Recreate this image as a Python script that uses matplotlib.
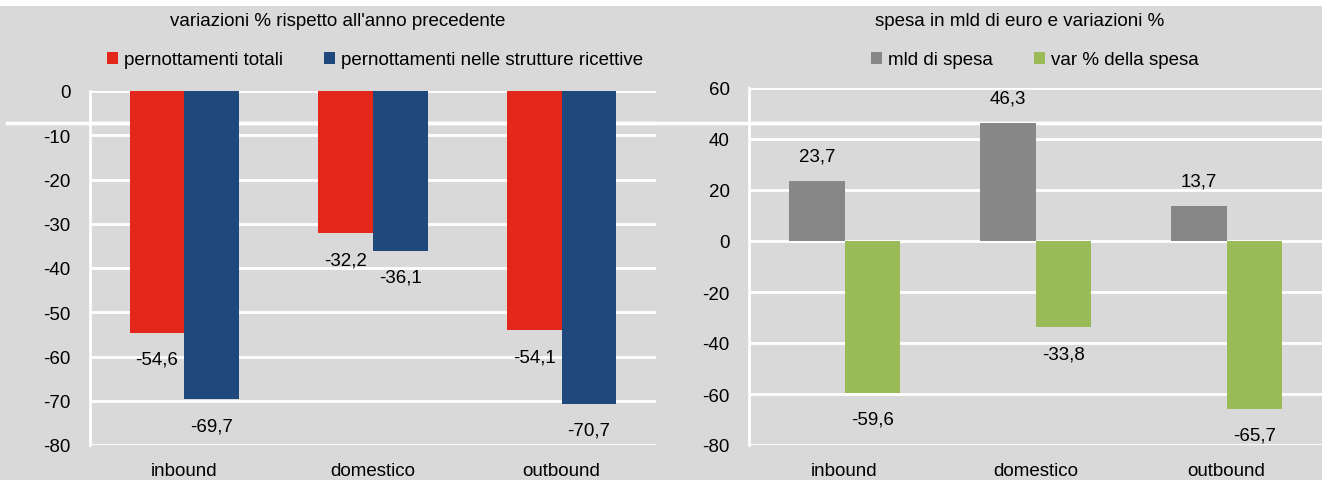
import matplotlib
matplotlib.use('Agg')
import matplotlib.pyplot as plt
from matplotlib.lines import Line2D
from matplotlib.patches import Rectangle
import numpy as np

plt.rcParams['font.family'] = ['Liberation Sans Narrow', 'Liberation Sans', 'DejaVu Sans']
plt.rcParams['axes.unicode_minus'] = False

categories = ['inbound', 'domestico', 'outbound']

# left panel: variazioni % pernottamenti
pern_totali = [-54.6, -32.2, -54.1]
pern_strutture = [-69.7, -36.1, -70.7]
left_title = "variazioni % rispetto all'anno precedente"
left_labels = ['pernottamenti totali', 'pernottamenti nelle strutture ricettive']
left_yticks = [0, -10, -20, -30, -40, -50, -60, -70, -80]

# right panel: spesa
mld_spesa = [23.7, 46.3, 13.7]
var_spesa = [-59.6, -33.8, -65.7]
right_title = 'spesa in mld di euro e variazioni %'
right_labels = ['mld di spesa', 'var % della spesa']
right_yticks = [60, 40, 20, 0, -20, -40, -60, -80]

BG = '#D9D9D9'
RED = '#E4271A'
BLUE = '#1F497D'
GRAY = '#878787'
GREEN = '#9BBB59'
FS = 13.5

W, H = 1322, 481
SEP_Y = 1 - 123.5 / H
fig = plt.figure(figsize=(W / 100, H / 100), dpi=100, facecolor=BG)

# white strip at top and separator line behind the charts
fig.add_artist(Rectangle((0, 1 - 7 / H), 1, 7 / H, transform=fig.transFigure,
                         facecolor='white', edgecolor='none', zorder=-2))
fig.add_artist(Line2D([7 / W, 1], [SEP_Y] * 2, transform=fig.transFigure,
                      color='white', lw=2.5, zorder=-1))


def fmt(v):
    return ('%.1f' % v).replace('.', ',')


def panel(rect, s1, s2, c1, c2, yticks, labels, title, title_x, legend_x):
    ax = fig.add_axes(rect)
    ax.set_facecolor('none')
    x = np.arange(len(categories))
    w = 0.29
    b1 = ax.bar(x - w / 2, s1, w, color=c1, label=labels[0], zorder=3)
    b2 = ax.bar(x + w / 2, s2, w, color=c2, label=labels[1], zorder=3)
    for bars, vals in ((b1, s1), (b2, s2)):
        for r, v in zip(bars, vals):
            off = 18 if v > 0 else -19
            ax.annotate(fmt(v), (r.get_x() + r.get_width() / 2, v),
                        xytext=(0, off), textcoords='offset points',
                        ha='center', va='center', fontsize=FS, color='black')
    ax.set_xlim(-0.5, len(categories) - 0.5)
    ax.set_ylim(min(yticks), max(yticks))
    # separator line also runs through the plot area, under the bars
    ax.plot([0, 1], [SEP_Y] * 2, transform=fig.transFigure, color='white',
            lw=2.5, zorder=2)
    ax.set_yticks(yticks)
    ax.set_xticks(x)
    ax.set_xticklabels(categories)
    ax.tick_params(axis='both', length=0, labelsize=FS, colors='black')
    ax.tick_params(axis='y', pad=14)
    ax.tick_params(axis='x', pad=12)
    ax.grid(axis='y', color='white', lw=2, zorder=1)
    ax.set_axisbelow(True)
    for s in ['top', 'right', 'bottom']:
        ax.spines[s].set_visible(False)
    ax.spines['left'].set_color('white')
    ax.spines['left'].set_linewidth(2)
    fig.text(title_x, 1 - 22 / H, title, ha='center', va='center', fontsize=FS)
    fig.legend(handles=[b1, b2], loc='center', bbox_to_anchor=(legend_x, 1 - 61 / H),
               ncol=2, frameon=False, fontsize=FS, handlelength=0.6, handleheight=0.6,
               handletextpad=0.3, columnspacing=2.2, borderaxespad=0)
    return ax


panel([90 / W, 1 - 446 / H, (656 - 90) / W, (446 - 92) / H],
      pern_totali, pern_strutture, RED, BLUE, left_yticks, left_labels,
      left_title, 338 / W, 375 / W)
panel([749 / W, 1 - 446 / H, (W - 749) / W, (446 - 89) / H],
      mld_spesa, var_spesa, GRAY, GREEN, right_yticks, right_labels,
      right_title, 1020 / W, 1035 / W)

fig.savefig('out.png', dpi=100, facecolor=BG)
